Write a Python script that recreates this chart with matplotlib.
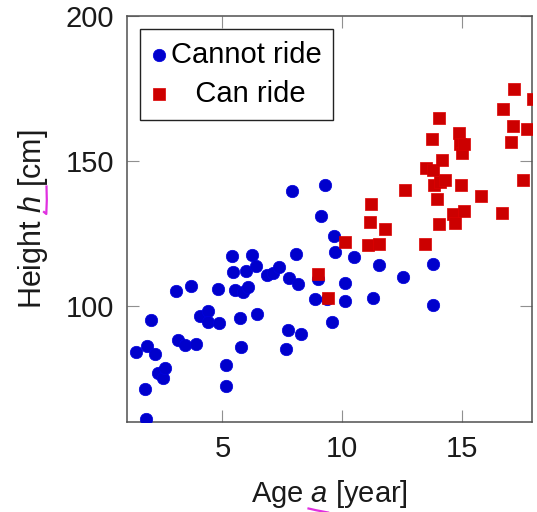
import matplotlib
matplotlib.use("Agg")
import matplotlib.pyplot as plt
from matplotlib.lines import Line2D

# ---- data ----
cannot_age = [1.39, 1.83, 2.01, 2.20, 1.77, 1.80, 2.30, 2.50, 2.62, 3.07, 3.14, 3.42,
              3.67, 3.89, 4.05, 4.38, 4.38, 4.83, 4.86, 5.16, 5.15, 5.40, 5.46, 5.53,
              5.72, 5.78, 5.88, 5.97, 6.06, 6.22, 6.41, 6.43, 6.85, 7.13, 7.37, 7.67,
              7.76, 7.80, 7.89, 8.08, 8.17, 8.27, 8.88, 9.00, 9.14, 9.29, 9.36, 9.57,
              9.66, 9.71, 10.11, 10.14, 10.51, 11.31, 11.54, 12.54, 13.79, 13.79]
cannot_height = [84.3, 86.4, 95.4, 83.7, 71.6, 61.3, 76.9, 75.3, 78.7, 105.3, 88.4, 86.8,
                 107.1, 87.1, 96.8, 98.4, 94.6, 106.0, 94.4, 79.8, 72.4, 117.2, 111.7, 105.6,
                 96.0, 86.0, 105.0, 112.0, 106.8, 117.6, 113.8, 97.2, 110.9, 111.3, 113.5, 85.4,
                 91.7, 109.7, 139.7, 117.9, 107.8, 90.4, 102.4, 109.5, 131.0, 141.7, 102.4, 94.6,
                 124.1, 118.7, 108.0, 101.8, 116.8, 103.0, 114.1, 110.1, 114.7, 100.3]

can_age = [8.99, 9.41, 10.13, 11.10, 11.55, 11.15, 11.21, 11.80, 12.62, 13.49, 13.52,
           13.75, 13.82, 13.84, 13.96, 14.05, 14.08, 14.20, 14.30, 14.06, 14.66, 14.74,
           14.88, 14.95, 15.01, 15.10, 14.97, 15.12, 15.83, 16.70, 16.74, 17.08, 17.13,
           17.21, 17.56, 17.75, 17.97]
can_height = [111.0, 102.9, 122.2, 121.2, 121.4, 129.0, 135.2, 126.6, 140.0, 121.5, 147.5,
              157.7, 146.9, 141.7, 137.0, 164.7, 142.7, 150.4, 143.6, 128.2, 131.9, 128.6,
              159.7, 156.0, 152.9, 155.9, 141.7, 132.9, 137.9, 132.2, 167.9, 156.7, 162.2,
              174.7, 143.5, 160.9, 171.5]

labels = ["Cannot ride", "   Can ride"]
x_ticks = [5, 10, 15]
y_ticks = [100, 150, 200]

plt.rcParams["font.family"] = ["Liberation Sans", "DejaVu Sans"]
plt.rcParams["mathtext.fontset"] = "custom"
plt.rcParams["mathtext.rm"] = "Liberation Sans"
plt.rcParams["mathtext.it"] = "Liberation Sans:italic"

fig = plt.figure(figsize=(5.37, 5.12), dpi=100)
ax = fig.add_axes([0.236, 0.175, 0.755, 0.794])

ax.scatter(cannot_age, cannot_height, s=80, marker="o", c="#0000cc",
           edgecolors="#0000e0", linewidths=0.5, label=labels[0], zorder=3)
ax.scatter(can_age, can_height, s=64, marker="s", c="#cc0000",
           edgecolors="#dd0000", linewidths=0.5, label=labels[1], zorder=4)

ax.set_xlim(1, 17.95)
ax.set_ylim(60, 200)
ax.set_xticks(x_ticks)
ax.set_yticks(y_ticks)
ax.tick_params(direction="in", length=8.5, width=0.8, color="#909090",
               top=True, right=True, labelsize=21, labelcolor="#1a1a1a", pad=9)
for sp in ax.spines.values():
    sp.set_color("#505050")
    sp.set_linewidth(1.1)

ax.set_xlabel("Age $a$ [year]", fontsize=21, color="#1a1a1a", labelpad=11)
ax.set_ylabel("Height $h$ [cm]", fontsize=22, color="#1a1a1a", labelpad=11)

leg = ax.legend(loc="upper left", bbox_to_anchor=(0.033, 0.967), fontsize=21,
                frameon=True, fancybox=False, framealpha=1, edgecolor="#222222",
                handlelength=0.5, handletextpad=0.15, borderpad=0.4,
                labelspacing=0.38, borderaxespad=0, scatterpoints=1)
leg.get_frame().set_linewidth(1.0)

# magenta hand-drawn underline marks present in the reference
W, H = 537, 512
def px(xs, ys):
    return [x / W for x in xs], [1 - y / H for y in ys]
mx, my = px([46.5, 46.8, 46.3, 44.0], [186.5, 200, 214.0, 212.0])
fig.add_artist(Line2D(mx, my, color="#e030e0", lw=1.6, transform=fig.transFigure))
mx, my = px([308.5, 316, 328], [508.5, 510.2, 512.5])
fig.add_artist(Line2D(mx, my, color="#e030e0", lw=1.6, transform=fig.transFigure))

fig.savefig("out.png", dpi=100)
